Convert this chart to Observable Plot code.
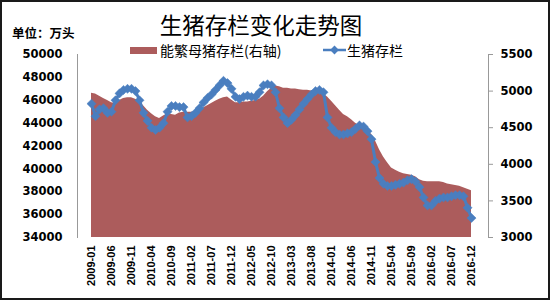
<!DOCTYPE html>
<html>
<head>
<meta charset="utf-8">
<script src="https://cdn.jsdelivr.net/npm/d3@7"></script>
<script src="https://cdn.jsdelivr.net/npm/@observablehq/plot@0.6"></script>
<style>
  html, body { margin: 0; padding: 0; background: #fff; }
  #wrap { position: relative; width: 550px; height: 300px; overflow: hidden; background: #fff; }
  #chart { position: absolute; left: 0; top: 0; }
  #border { position: absolute; left: 0; top: 0; width: 550px; height: 300px; box-sizing: border-box; border: 2px solid #1a1a1a; pointer-events: none; }
  .cjk { font-family: "Noto Sans CJK SC", sans-serif; position: absolute; white-space: nowrap; color: #000; }
  #title { left: 0; width: 522px; text-align: center; top: 9px; font-size: 22.5px; line-height: 30px; }
  #unit { left: 12px; top: 24px; font-size: 12.5px; font-weight: bold; line-height: 18px; }
  #leg1sw { position: absolute; left: 130px; top: 47px; width: 27px; height: 7px; }
  #leg1 { left: 160px; top: 40px; font-size: 14px; line-height: 20px; }
  #leg2svg { position: absolute; left: 320px; top: 44px; }
  #leg2 { left: 347px; top: 40px; font-size: 14px; line-height: 20px; }
  #chart g[aria-label="y-axis tick label"] text { font-family: "DejaVu Sans", sans-serif; font-weight: bold; font-size: 11.5px; fill: #000; }
  #chart g[aria-label="x-axis tick label"] text { font-family: "Liberation Sans", sans-serif; font-weight: bold; font-size: 11px; fill: #000; }
</style>
</head>
<body>
<div id="wrap">
  <div id="chart"></div>
  <div id="title" class="cjk">生猪存栏变化走势图</div>
  <div id="unit" class="cjk">单位：万头</div>
  <div id="leg1sw"></div>
  <div id="leg1" class="cjk">能繁母猪存栏(右轴)</div>
  <svg id="leg2svg" width="30" height="12"></svg>
  <div id="leg2" class="cjk">生猪存栏</div>
  <div id="border"></div>
</div>
<script>
// ---- data ----
const months = d3.utcMonths(new Date(Date.UTC(2009, 0, 1)), new Date(Date.UTC(2017, 0, 1))).map(d3.utcFormat("%Y-%m"));

// 生猪存栏 (万头, left axis)
const hogStock = [
  45700, 44600, 45200, 45300, 44900, 45000, 46000, 46600, 46900, 47000, 47000, 46800,
  46000, 44900, 44200, 43600, 43400, 43600, 44000, 45000, 45500, 45500, 45400, 45400,
  44500, 44600, 44900, 45300, 45800, 46200, 46500, 46900, 47300, 47700, 47500, 47000,
  46300, 46100, 46300, 46400, 46300, 46300, 46700, 47300, 47400, 47300, 46700, 45300,
  44500, 44000, 44300, 44700, 45200, 45700, 46100, 46500, 46800, 46900, 46700, 44500,
  43600, 43200, 43000, 43000, 43100, 43200, 43500, 43800, 43700, 43300, 42600, 40600,
  39200, 38700, 38500, 38500, 38600, 38700, 38800, 39000, 39100, 38900, 38400, 37500,
  36800, 36800, 37200, 37400, 37500, 37500, 37600, 37700, 37700, 37600, 36600, 35700
];

// 能繁母猪存栏 (万头, right axis)
const sowStock = [
  4970, 4960, 4930, 4900, 4870, 4840, 4830, 4870, 4900, 4910, 4910, 4890,
  4860, 4800, 4740, 4690, 4650, 4625, 4660, 4690, 4680, 4670, 4700, 4710,
  4710, 4710, 4720, 4740, 4770, 4800, 4830, 4860, 4890, 4910, 4920, 4880,
  4840, 4840, 4850, 4850, 4860, 4870, 4890, 4930, 4990, 5040, 5070, 5060,
  5040, 5040, 5030, 5030, 5020, 5010, 5010, 5000, 5000, 4990, 4960, 4920,
  4860, 4800, 4740, 4680, 4650, 4610, 4560, 4530, 4490, 4450, 4410, 4320,
  4200, 4100, 4020, 3950, 3920, 3890, 3870, 3860, 3850, 3830, 3790, 3770,
  3760, 3760, 3760, 3760, 3750, 3730, 3720, 3710, 3700, 3680, 3660, 3640
];

const leftTicks = [34000, 36000, 38000, 40000, 42000, 44000, 46000, 48000, 50000];
const rightTicks = [3000, 3500, 4000, 4500, 5000, 5500];
const xTickLabels = months.filter((d, i) => i % 5 === 0);

const areaColor = "#AC5C5C";
const lineColor = "#4A7EBF";

// map right-axis values onto the left-axis domain
const L0 = 34000, L1 = 50000, R0 = 3000, R1 = 5500;
const toLeft = v => L0 + (v - R0) * (L1 - L0) / (R1 - R0);
const toRight = v => R0 + (v - L0) * (R1 - R0) / (L1 - L0);

const data = months.map((m, i) => ({month: m, hog: hogStock[i], sow: sowStock[i]}));

const chart = Plot.plot({
  width: 550,
  height: 300,
  marginTop: 54,
  marginBottom: 63,
  marginLeft: 77,
  marginRight: 62,
  style: {background: "transparent", overflow: "visible"},
  x: {type: "point", domain: months, range: [80, 482]},
  y: {domain: [L0, L1]},
  marks: [
    Plot.areaY(data, {x: "month", y1: () => L0, y2: d => toLeft(d.sow), fill: areaColor, curve: "linear"}),
    Plot.line(data, {x: "month", y: "hog", stroke: lineColor, strokeWidth: 3}),
    Plot.dot(data, {x: "month", y: "hog", symbol: "diamond2", r: 4.1, fill: lineColor, stroke: lineColor, strokeWidth: 0.5}),
    Plot.frame({anchor: "left", stroke: "#999"}),
    Plot.frame({anchor: "right", stroke: "#999"}),
    Plot.axisY(leftTicks, {anchor: "left", tickSize: 0, tickPadding: 15, tickFormat: d => String(d), label: null}),
    Plot.axisY(rightTicks.map(toLeft), {anchor: "right", tickSize: 4, tickPadding: 8, stroke: "#999", tickFormat: d => String(Math.round(toRight(d))), label: null}),
    Plot.axisX(xTickLabels, {anchor: "bottom", tickRotate: -90, tickSize: 0, tickPadding: 8, label: null})
  ]
});
document.getElementById("chart").appendChild(chart);

// legend swatches
document.getElementById("leg1sw").style.background = areaColor;
const lg = d3.select("#leg2svg");
lg.append("line").attr("x1", 3).attr("x2", 26).attr("y1", 6).attr("y2", 6).attr("stroke", lineColor).attr("stroke-width", 2.5);
lg.append("path").attr("transform", "translate(14.5,6)").attr("d", d3.symbol(d3.symbolDiamond2, 50)()).attr("fill", lineColor);
</script>
</body>
</html>
